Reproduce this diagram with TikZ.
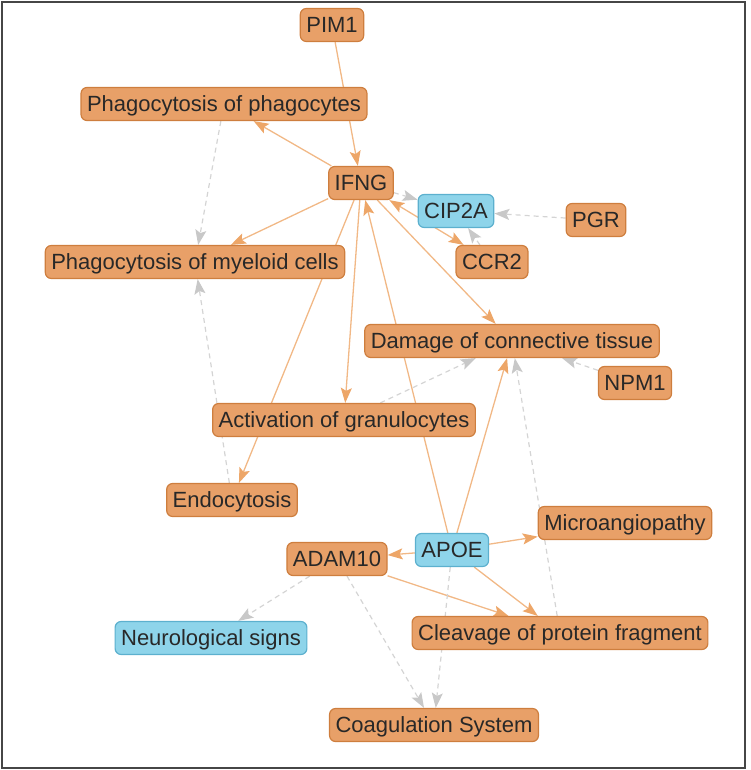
\documentclass[tikz,border=0pt]{standalone}
\usepackage{fontspec}
\setmainfont{Liberation Sans}
\usetikzlibrary{arrows.meta}
\pgfdeclarelayer{edges}
\pgfsetlayers{edges,main}

\definecolor{upfill}{RGB}{232,160,104}
\definecolor{upline}{RGB}{206,126,62}
\definecolor{downfill}{RGB}{142,212,234}
\definecolor{downline}{RGB}{92,176,206}
\definecolor{actline}{RGB}{241,184,134}
\definecolor{acttip}{RGB}{237,166,104}
\definecolor{predline}{RGB}{212,212,212}
\definecolor{predtip}{RGB}{200,200,200}
\definecolor{labeltext}{RGB}{40,40,40}
\definecolor{framecol}{RGB}{70,70,70}

\tikzset{
  acthead/.tip={Stealth[length=15pt,width=11pt,inset=3pt,color=acttip]},
  predhead/.tip={Stealth[length=15pt,width=11pt,inset=3pt,color=predtip]},
  box/.style={rounded corners=6pt, line width=1.2pt, minimum height=33pt,
    inner xsep=6pt, inner ysep=0pt, text height=15.5pt, text depth=0pt,
    font=\fontsize{22}{26}\selectfont, text=labeltext},
  up/.style={box, fill=upfill, draw=upline},
  down/.style={box, fill=downfill, draw=downline},
  act/.style={draw=actline, line width=1.3pt, -acthead},
  pred/.style={draw=predline, line width=1.2pt, dash pattern=on 5pt off 4pt, -predhead},
}

\begin{document}
\begin{tikzpicture}[x=1pt,y=-1pt]
\useasboundingbox (0,0) rectangle (750,770);
\draw[framecol, line width=2pt] (2,2) rectangle (745,768);

% molecules and functions
\node[up]   (pim1)  at (332,25)  {PIM1};
\node[up]   (phph)  at (224,104) {Phagocytosis of phagocytes};
\node[up]   (ifng)  at (361,183) {IFNG};
\node[down] (cip2a) at (456,211) {CIP2A};
\node[up]   (pgr)   at (596,220) {PGR};
\node[up]   (ccr2)  at (492,262) {CCR2};
\node[up]   (phmy)  at (195,262) {Phagocytosis of myeloid cells};
\node[up]   (dmg)   at (512,341) {Damage of connective tissue};
\node[up]   (npm1)  at (635,383) {NPM1};
\node[up]   (actg)  at (344,420) {Activation of granulocytes};
\node[up]   (endo)  at (232,500) {Endocytosis};
\node[up]   (micro) at (625,523) {Microangiopathy};
\node[down] (apoe)  at (452,550) {APOE};
\node[up]   (adam)  at (337,559) {ADAM10};
\node[down] (neuro) at (211,638) {Neurological signs};
\node[up]   (cleav) at (560,633) {Cleavage of protein fragment};
\node[up]   (coag)  at (434,725) {Coagulation System};

\begin{pgfonlayer}{edges}
  % activating relations
  \draw[act] (pim1) -- (ifng);
  \draw[act] (ifng) -- (phph);
  \draw[act] (ifng) -- (phmy);
  \draw[act] (ifng) -- (endo);
  \draw[act] (ifng) -- (actg);
  \draw[act] (ifng) -- (dmg);
  \draw[act, acthead-acthead] (ifng) -- (ccr2);
  \draw[act] (apoe) -- (ifng);
  \draw[act] (apoe) -- (dmg);
  \draw[act] (apoe) -- (adam);
  \draw[act] (apoe) -- (micro);
  \draw[act] (apoe) -- (cleav);
  \draw[act] (adam) -- (cleav);
  % predicted relations
  \draw[pred] (phph)  -- (phmy);
  \draw[pred] (endo)  -- (phmy);
  \draw[pred] (ifng)  -- (cip2a);
  \draw[pred] (pgr)   -- (cip2a);
  \draw[pred] (ccr2)  -- (cip2a);
  \draw[pred] (actg)  -- (dmg);
  \draw[pred] (npm1)  -- (dmg);
  \draw[pred] (cleav) -- (dmg);
  \draw[pred] (adam)  -- (neuro);
  \draw[pred] (adam)  -- (coag);
  \draw[pred] (apoe)  -- (coag);
\end{pgfonlayer}
\end{tikzpicture}
\end{document}
